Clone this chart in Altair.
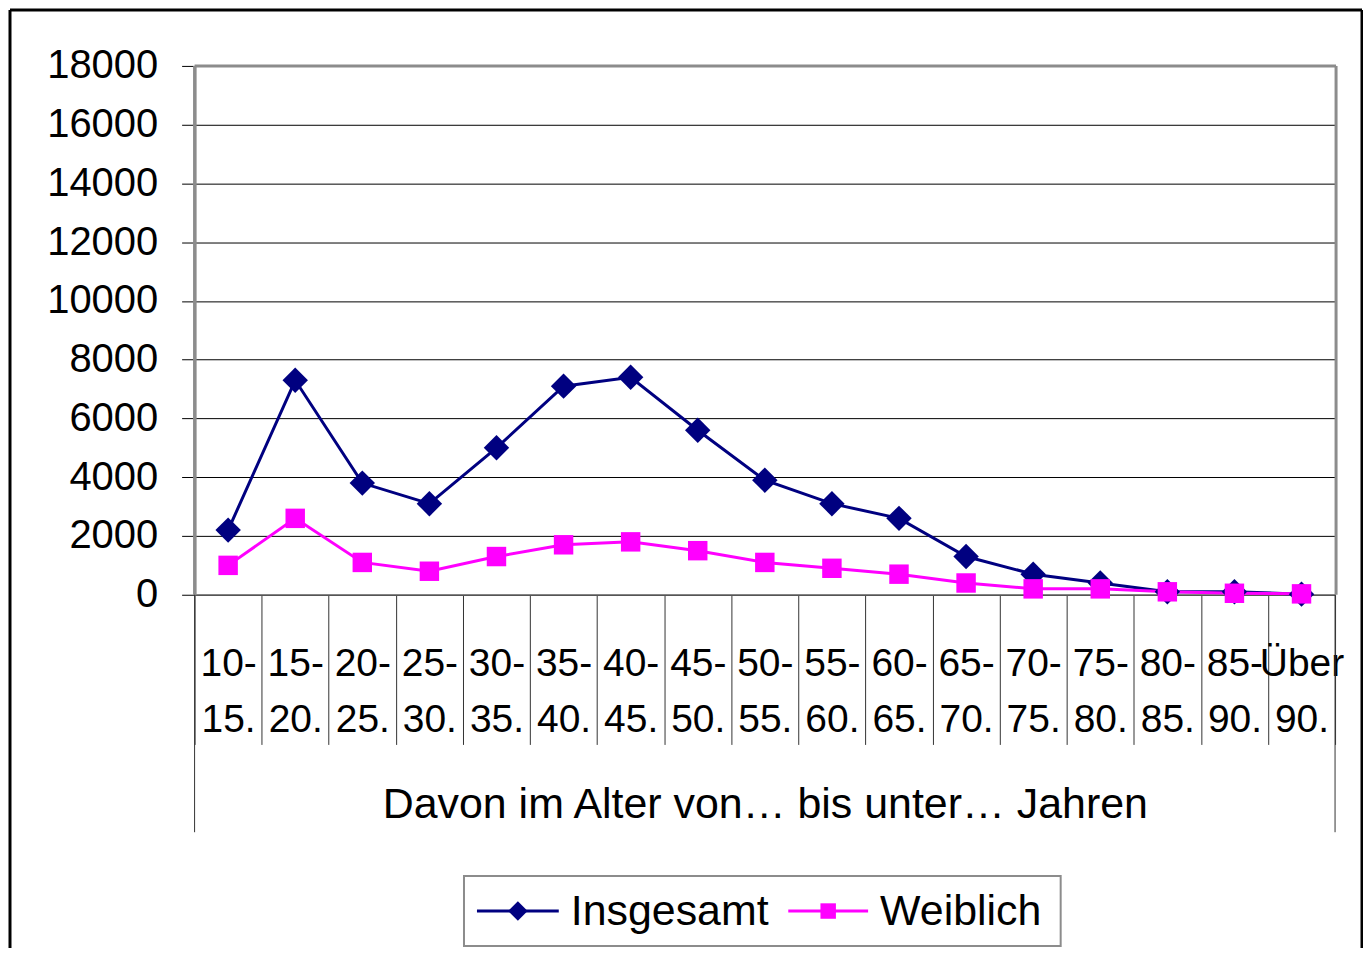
import altair as alt
import pandas as pd

categories = ["10-|15.", "15-|20.", "20-|25.", "25-|30.", "30-|35.", "35-|40.", "40-|45.",
              "45-|50.", "50-|55.", "55-|60.", "60-|65.", "65-|70.", "70-|75.", "75-|80.",
              "80-|85.", "85-|90.", "Über|90."]
insgesamt = [2200, 7300, 3800, 3100, 5000, 7100, 7400, 5600, 3900, 3100, 2600, 1300, 700, 400, 100, 100, 20]
weiblich = [1000, 2600, 1100, 800, 1300, 1700, 1800, 1500, 1100, 900, 700, 400, 200, 200, 100, 50, 30]
series = ["Insgesamt", "Weiblich"]
colors = ["#000080", "#FF00FF"]
y_ticks = list(range(0, 18001, 2000))
x_title = "Davon im Alter von… bis unter… Jahren"

rows = []
for name, vals in zip(series, [insgesamt, weiblich]):
    for i, (c, v) in enumerate(zip(categories, vals)):
        rows.append({"cat": c, "value": v, "series": name, "order": i})
df = pd.DataFrame(rows)

FONT = "Liberation Sans"
W, H = 1143, 530

x_enc = alt.X(
    "cat:N", sort=categories,
    scale=alt.Scale(type="band", paddingInner=0, paddingOuter=0),
    axis=alt.Axis(
        title=x_title, titleFontSize=43, titleFontWeight="normal", titleColor="black",
        titleFont=FONT, titleY=210, titleBaseline="middle",
        labelExpr="split(datum.label, '|')", labelAngle=0, labelFontSize=39,
        labelFont=FONT, labelColor="black", labelBaseline="top", labelLineHeight=56,
        labelPadding=-100, labelOverlap=False, labelLimit=0, labelFlush=False,
        tickBand="extent", tickSize=150, tickColor="#333333", tickWidth=1,
        domainColor="#555555", domainWidth=1.5, grid=False,
    ),
)
y_enc = alt.Y(
    "value:Q", scale=alt.Scale(domain=[0, 18000], nice=False),
    axis=alt.Axis(
        title=None, values=y_ticks, format="d", grid=True, gridColor="black", gridWidth=1,
        domainColor="#8c8c8c", domainWidth=3, tickColor="black", tickSize=13, tickWidth=1,
        labelFontSize=40, labelFont=FONT, labelColor="black", labelPadding=24,
    ),
)
color_enc = alt.Color("series:N", scale=alt.Scale(domain=series, range=colors), legend=None)

base = alt.Chart(df)
lines = base.mark_line(strokeWidth=3).encode(x=x_enc, y=y_enc, color=color_enc, order="order:Q")
points = base.mark_point(filled=True, opacity=1).encode(
    x=x_enc, y=y_enc, color=color_enc,
    shape=alt.Shape("series:N", scale=alt.Scale(domain=series, range=["diamond", "square"]), legend=None),
    size=alt.Size("series:N", scale=alt.Scale(domain=series, range=[650, 380]), legend=None),
)

one = alt.Data(values=[{"k": 1}])

def rule(x, x2, y, y2, color, width):
    return alt.Chart(one).mark_rule(color=color, strokeWidth=width).encode(
        x=alt.value(x), x2=alt.value(x2), y=alt.value(y), y2=alt.value(y2))

# plot-area border (grey like the reference)
border_t = rule(0, W + 1, 0, 0, "#8c8c8c", 3)
border_r = rule(W + 1, W + 1, 0, H, "#8c8c8c", 3)
border_l = rule(0, 0, 0, H, "#8c8c8c", 3)

# outer ticks of the category axis
edge_l = rule(0, 0, H, 768, "#333333", 1)
edge_r = rule(W, W, H, 768, "#333333", 1)

# frame around the whole figure
frame_l = rule(-185, -185, -56, 890, "black", 3)
frame_r = rule(1170, 1170, -56, 890, "black", 3)
frame_t = rule(-185, 1170, -56, -56, "black", 3)

# legend
leg_box = alt.Chart(one).mark_rect(filled=False, color="#8c8c8c", strokeWidth=2).encode(
    x=alt.value(270), x2=alt.value(868), y=alt.value(812), y2=alt.value(882))
leg_y = 847
leg_items = []
for name, col, shp, sz, lx0, lx1, tx in [
    ("Insgesamt", colors[0], "diamond", 380, 283, 365, 377),
    ("Weiblich", colors[1], "square", 240, 595, 675, 687),
]:
    leg_items.append(rule(lx0, lx1, leg_y, leg_y, col, 3))
    leg_items.append(alt.Chart(one).mark_point(filled=True, opacity=1, shape=shp, size=sz, color=col).encode(
        x=alt.value((lx0 + lx1) / 2), y=alt.value(leg_y)))
    leg_items.append(alt.Chart(one).mark_text(align="left", baseline="middle", fontSize=43, font=FONT,
                                               color="black").encode(
        x=alt.value(tx), y=alt.value(leg_y + 1), text=alt.value(name)))

chart = alt.layer(
    lines, points, border_t, border_r, border_l, edge_l, edge_r, frame_l, frame_r, frame_t,
    leg_box, *leg_items
).properties(
    width=W, height=H,
    autosize=alt.AutoSizeParams(type="none"),
    padding={"left": 187, "top": 57, "right": 28, "bottom": 353},
).configure_view(
    stroke="#8c8c8c", strokeWidth=3
).configure(
    background="white"
)

chart.save("out.html", embed_options={"renderer": "svg", "actions": False})
